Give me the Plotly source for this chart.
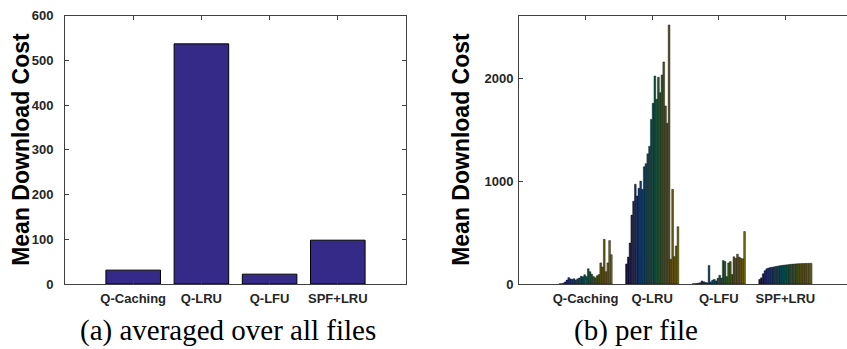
import plotly.graph_objects as go

# ---------------- data ----------------
categories = ["Q-Caching", "Q-LRU", "Q-LFU", "SPF+LRU"]
avg_cost = [31, 537, 22, 98]

q_caching_files = [2, 3, 8, 20, 38, 62, 50, 45, 52, 38, 50, 58, 75, 70, 90,
                   72, 148, 120, 95, 72, 60, 80, 92, 205, 165, 435, 120, 205, 422, 285]
q_lru_files = [195, 262, 398, 670, 805, 970, 855, 930, 1000, 920, 1140, 1170, 1265, 1340, 1600,
               1757, 2022, 1796, 2010, 1860, 2032, 2159, 1731, 1562, 2518, 240, 920, 266, 370, 557]
q_lfu_files = [2, 3, 5, 8, 12, 30, 22, 16, 12, 180, 20, 38, 45, 30, 55,
               85, 58, 228, 218, 72, 205, 218, 92, 265, 250, 290, 262, 250, 245, 510]
spf_lru_files = [45, 60, 100, 130, 148, 155, 160, 163, 166, 170, 173, 176, 179, 182, 184,
                 186, 188, 190, 192, 194, 195, 196, 197, 198, 199, 199, 200, 200, 201, 201]

left_ticks = [0, 100, 200, 300, 400, 500, 600]
right_ticks = [0, 1000, 2000]

# ---------------- colours (parula-like, as rendered with dark edges) ----------------
parula_pts = [
    (0.00, (0.208, 0.166, 0.529)),
    (0.12, (0.270, 0.300, 0.950)),
    (0.25, (0.180, 0.500, 0.980)),
    (0.35, (0.120, 0.620, 0.900)),
    (0.45, (0.040, 0.700, 0.770)),
    (0.55, (0.150, 0.750, 0.600)),
    (0.65, (0.400, 0.790, 0.400)),
    (0.75, (0.680, 0.770, 0.200)),
    (0.85, (0.900, 0.730, 0.230)),
    (0.93, (0.980, 0.830, 0.170)),
    (1.00, (0.977, 0.983, 0.080)),
]


def parula(t, k=0.45):
    for (t0, c0), (t1, c1) in zip(parula_pts[:-1], parula_pts[1:]):
        if t0 <= t <= t1:
            f = (t - t0) / (t1 - t0)
            c = [c0[i] + f * (c1[i] - c0[i]) for i in range(3)]
            return "rgb(%d,%d,%d)" % tuple(int(255 * k * v) for v in c)
    return "black"


n_files = len(q_lru_files)
fig = go.Figure()

# left panel
fig.add_trace(go.Bar(
    x=[1, 2, 3, 4], y=avg_cost, xaxis="x", yaxis="y",
    marker=dict(color="rgb(53,42,135)", line=dict(color="black", width=1)),
    showlegend=False, offsetgroup="a",
))

# right panel
for i in range(n_files):
    vals = [q_caching_files[i], q_lru_files[i], q_lfu_files[i], spf_lru_files[i]]
    fig.add_trace(go.Bar(
        x=[1, 2, 3, 4], y=vals, xaxis="x2", yaxis="y2",
        marker=dict(color=parula(i / (n_files - 1)), line=dict(color="black", width=0.4)),
        showlegend=False,
    ))

tickfont = dict(family="Liberation Sans", size=13, color="#262626", weight="bold")
axis_common = dict(showline=True, linecolor="#404040", linewidth=1, ticks="inside",
                   ticklen=4, tickcolor="#404040", showgrid=False, zeroline=False,
                   tickfont=tickfont, automargin=False)

H = 349.0
W = 847.0
y_dom = [(H - 284) / H, (H - 15.7) / H]

fig.update_layout(
    width=847, height=349,
    margin=dict(l=0, r=0, t=0, b=0, pad=0),
    paper_bgcolor="white", plot_bgcolor="white",
    barmode="group", bargap=0.2, bargroupgap=0,
    xaxis=dict(domain=[65 / W, 406 / W], range=[0, 5], tickvals=[1, 2, 3, 4],
               ticktext=categories, mirror="ticks", anchor="y", ticklabelstandoff=2,
               **axis_common),
    yaxis=dict(domain=y_dom, range=[0, 600], tickvals=left_ticks, mirror="ticks",
               anchor="x", ticklabelstandoff=8, **axis_common),
    xaxis2=dict(domain=[519 / W, 1.0], range=[0, 4.925], tickvals=[1, 2, 3, 4],
                ticktext=categories, mirror="ticks", anchor="y2", ticklabelstandoff=2,
                **axis_common),
    yaxis2=dict(domain=y_dom, range=[0, 2608], tickvals=right_ticks, mirror=False,
                anchor="x2", ticklabelstandoff=2, **axis_common),
    font=dict(family="Liberation Sans"),
)

title_font = dict(family="Liberation Sans", size=23, color="black", weight="bold")
ymid = (H - (15.7 + 284) / 2) / H
fig.add_annotation(text="Mean Download Cost", xref="paper", yref="paper",
                   x=21 / W, y=ymid, textangle=-90, showarrow=False, font=title_font,
                   xanchor="center", yanchor="middle")
fig.add_annotation(text="Mean Download Cost", xref="paper", yref="paper",
                   x=461 / W, y=ymid, textangle=-90, showarrow=False, font=title_font,
                   xanchor="center", yanchor="middle")

cap_font = dict(family="Liberation Serif", size=29, color="black")
fig.add_annotation(text="(a) averaged over all files", xref="paper", yref="paper",
                   x=228 / W, y=(H - 330) / H, showarrow=False, font=cap_font,
                   xanchor="center", yanchor="middle")
fig.add_annotation(text="(b) per file", xref="paper", yref="paper",
                   x=636 / W, y=(H - 330) / H, showarrow=False, font=cap_font,
                   xanchor="center", yanchor="middle")

fig.write_html("out.html",
               config={"displayModeBar": False},
               post_script="document.body.style.margin='0px';"
                           "document.body.style.overflow='hidden';")
